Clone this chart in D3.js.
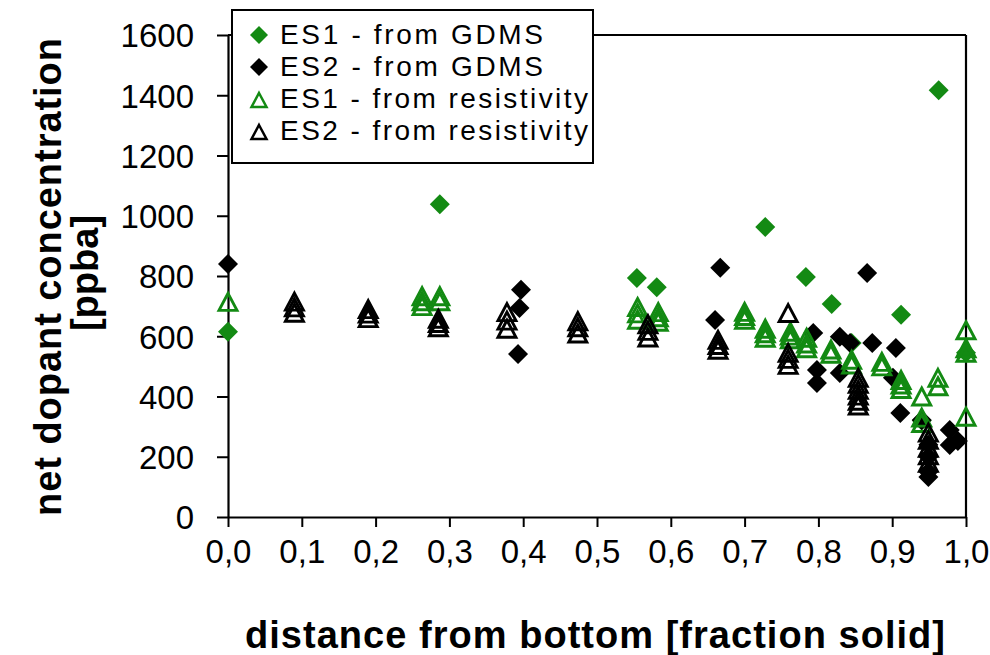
<!DOCTYPE html>
<html><head><meta charset="utf-8">
<script src="https://cdn.jsdelivr.net/npm/d3@7"></script>
<style>body{margin:0;background:#fff}svg text{font-family:"Liberation Sans",Arial,sans-serif}</style>
</head><body><svg id="c" width="990" height="655"></svg>
<script>
// ---- data ----
const xTicks = [0,0.1,0.2,0.3,0.4,0.5,0.6,0.7,0.8,0.9,1.0];
const yTicks = [0,200,400,600,800,1000,1200,1400,1600];
const legendLabels = ["ES1 - from GDMS","ES2 - from GDMS","ES1 - from resistivity","ES2 - from resistivity"];

const es1GdmsX = [0.0,0.287,0.554,0.581,0.728,0.783,0.818,0.845,0.912,0.94,0.963,1.0];
const es1GdmsY = [615,1038,793,763,963,797,707,578,671,320,1417,545];

const es2GdmsX = [0.0,0.393,0.395,0.397,0.66,0.667,0.793,0.798,0.798,0.829,0.829,0.843,0.866,0.873,0.901,0.905,0.911,0.94,0.949,0.949,0.949,0.949,0.978,0.978,0.989];
const es2GdmsY = [840,541,694,754,654,827,611,488,445,598,478,578,810,578,462,561,345,322,240,200,150,133,289,239,252];

const es1ResX = [0.0,0.263,0.263,0.263,0.287,0.287,0.555,0.555,0.555,0.583,0.583,0.583,0.70,0.70,0.70,0.728,0.728,0.728,0.762,0.762,0.762,0.784,0.784,0.784,0.817,0.817,0.845,0.845,0.886,0.886,0.912,0.912,0.912,0.94,0.94,0.94,0.962,0.962,1.0,1.0,1.0,1.0];
const es1ResY = [714,733,716,700,733,716,697,676,655,680,663,648,681,667,655,625,610,595,615,602,590,595,576,560,556,542,522,506,515,500,455,440,425,400,330,312,462,434,620,560,545,333];

const es2ResX = [0.09,0.09,0.09,0.19,0.19,0.19,0.285,0.285,0.285,0.378,0.378,0.378,0.474,0.474,0.474,0.569,0.569,0.569,0.664,0.664,0.664,0.759,0.759,0.759,0.759,0.854,0.854,0.854,0.854,0.854,0.854,0.949,0.949,0.949,0.949,0.949];
const es2ResY = [715,696,678,690,675,660,658,644,630,680,652,625,650,630,609,640,618,596,588,571,555,677,545,525,505,462,442,422,403,386,370,280,256,230,205,180];

// ---- chart ----
const svg = d3.select("#c");
const green = "#138a13";
const x = d3.scaleLinear().domain([0,1]).range([228,966]);
const y = d3.scaleLinear().domain([0,1600]).range([517,35]);

// frame (top & right)
svg.append("line").attr("x1",x(0)).attr("x2",x(1)).attr("y1",y(1600)).attr("y2",y(1600)).attr("stroke","#000").attr("stroke-width",2.2);
svg.append("line").attr("x1",x(1)).attr("x2",x(1)).attr("y1",y(1600)).attr("y2",y(0)).attr("stroke","#000").attr("stroke-width",2.2);

const fmtX = d => d3.format(".1f")(d).replace(".",",");
const gx = svg.append("g").attr("transform",`translate(0,${y(0)})`)
  .call(d3.axisBottom(x).tickValues(xTicks).tickFormat(fmtX).tickSize(10).tickSizeOuter(0).tickPadding(13));
const gy = svg.append("g").attr("transform",`translate(${x(0)},0)`)
  .call(d3.axisLeft(y).tickValues(yTicks).tickFormat(d3.format("d")).tickSize(11).tickSizeOuter(0).tickPadding(23));
[gx,gy].forEach(g=>{
  g.select(".domain").attr("stroke","#000").attr("stroke-width",2.2);
  g.selectAll(".tick line").attr("stroke","#000").attr("stroke-width",2);
  g.selectAll(".tick text").attr("fill","#000").style("font-size","33px").style("font-family","'Liberation Sans',Arial,sans-serif");
});
gy.selectAll(".tick text").attr("dy","0.36em");

// shapes
const diamond = r => `M0,${-r}L${r},0L0,${r}L${-r},0Z`;
const tri = (w,h) => `M0,${-h/2}L${w/2},${h/2}L${-w/2},${h/2}Z`;

function drawDiamonds(xs, ys, col){
  svg.append("g").selectAll("path").data(xs.map((v,i)=>[v,ys[i]])).join("path")
    .attr("d", diamond(10)).attr("transform",d=>`translate(${x(d[0])},${y(d[1])})`)
    .attr("fill",col);
}
function drawTris(xs, ys, col){
  svg.append("g").selectAll("path").data(xs.map((v,i)=>[v,ys[i]])).join("path")
    .attr("d", tri(18,17)).attr("transform",d=>`translate(${x(d[0])},${y(d[1])})`)
    .attr("fill","none").attr("stroke",col).attr("stroke-width",2.9).attr("stroke-linejoin","miter");
}
drawDiamonds(es1GdmsX, es1GdmsY, green);
drawDiamonds(es2GdmsX, es2GdmsY, "#000");
drawTris(es1ResX, es1ResY, green);
drawTris(es2ResX, es2ResY, "#000");

// legend
const lg = svg.append("g");
lg.append("rect").attr("x",232).attr("y",10).attr("width",361).attr("height",153)
  .attr("fill","#fff").attr("stroke","#000").attr("stroke-width",2);
const legY = [34,66,98,130];
const legLen = [263,263,308,308];
const legKinds = [["d",green],["d","#000"],["t",green],["t","#000"]];
legendLabels.forEach((lab,i)=>{
  const [k,c] = legKinds[i];
  if(k==="d") lg.append("path").attr("d",diamond(9)).attr("transform",`translate(259,${legY[i]+1})`).attr("fill",c);
  else lg.append("path").attr("d",tri(15,14)).attr("transform",`translate(259,${legY[i]+2})`).attr("fill","none").attr("stroke",c).attr("stroke-width",2.5);
  lg.append("text").attr("x",280).attr("y",legY[i]).attr("dy","0.36em").style("font-size","28px")
    .attr("textLength",legLen[i]).attr("lengthAdjust","spacing").text(lab);
});

// axis titles
svg.append("text").attr("x",595).attr("y",648).attr("text-anchor","middle")
  .style("font-size","38px").style("font-weight","bold").attr("textLength",700).attr("lengthAdjust","spacing")
  .text("distance from bottom [fraction solid]");
svg.append("text").attr("transform","translate(61,277) rotate(-90)").attr("text-anchor","middle")
  .style("font-size","38px").style("font-weight","bold").attr("textLength",478).attr("lengthAdjust","spacing")
  .text("net dopant concentration");
svg.append("text").attr("transform","translate(98,273) rotate(-90)").attr("text-anchor","middle")
  .style("font-size","38px").style("font-weight","bold")
  .text("[ppba]");
</script></body></html>
